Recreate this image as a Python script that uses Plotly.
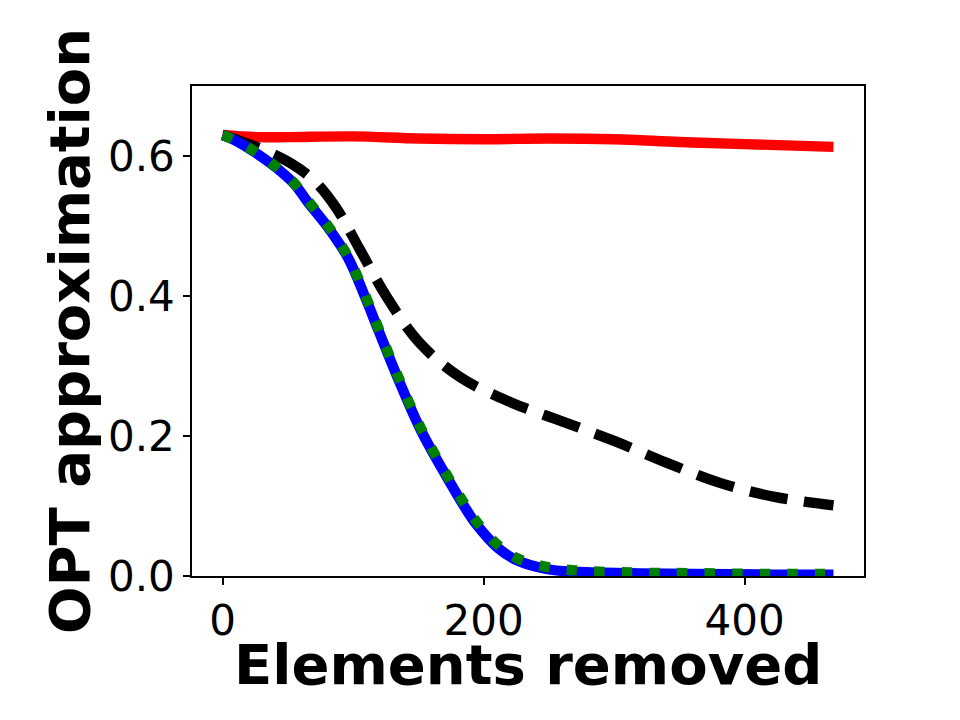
import plotly.graph_objects as go

# Data
red_x = [0, 25, 50, 100, 150, 200, 250, 300, 350, 400, 468]
red_y = [0.630, 0.627, 0.627, 0.628, 0.625, 0.624, 0.625, 0.624, 0.620, 0.617, 0.613]

black_x = [0, 14, 30, 52, 70, 87, 105, 126, 151, 182, 221, 260, 300, 340, 381, 423, 468]
black_y = [0.630, 0.621, 0.610, 0.590, 0.565, 0.526, 0.467, 0.398, 0.333, 0.284, 0.248,
           0.221, 0.193, 0.162, 0.133, 0.113, 0.101]

blue_x = [0, 10, 25, 40, 55, 65, 80, 96, 110, 119, 134, 152, 171, 185, 194, 211, 226,
          248, 270, 313, 360, 420, 468]
blue_y = [0.630, 0.622, 0.605, 0.585, 0.560, 0.535, 0.500, 0.455, 0.395, 0.353, 0.284,
          0.208, 0.144, 0.100, 0.075, 0.040, 0.022, 0.010, 0.006, 0.004, 0.003, 0.002, 0.002]

green_x = blue_x
green_y = [0.630, 0.622, 0.606, 0.586, 0.561, 0.537, 0.502, 0.457, 0.398, 0.356, 0.287,
           0.211, 0.147, 0.104, 0.079, 0.044, 0.025, 0.013, 0.008, 0.005, 0.004, 0.003, 0.003]

x_ticks = [0, 200, 400]
y_ticks = [0.0, 0.2, 0.4, 0.6]
y_tick_text = ["0.0", "0.2", "0.4", "0.6"]
x_title = "Elements removed"
y_title = "OPT approximation"

LW = 10.4

fig = go.Figure()
fig.add_trace(go.Scatter(x=red_x, y=red_y, mode="lines",
                         line=dict(color="#ff0000", width=LW, shape="spline")))
fig.add_trace(go.Scatter(x=black_x, y=black_y, mode="lines",
                         line=dict(color="#000000", width=LW, dash="38.5px,16.7px", shape="spline")))
fig.add_trace(go.Scatter(x=blue_x, y=blue_y, mode="lines",
                         line=dict(color="#0000ff", width=LW, shape="spline")))
fig.add_trace(go.Scatter(x=green_x, y=green_y, mode="lines",
                         line=dict(color="#008000", width=LW, dash="10.4px,17.2px", shape="spline")))

axis_common = dict(
    showline=True, linecolor="black", linewidth=1.7, mirror=True,
    ticks="outside", ticklen=7, tickwidth=1.7, tickcolor="black",
    showgrid=False, zeroline=False,
    tickfont=dict(family="DejaVu Sans", size=42, color="black"),
)

fig.update_layout(
    width=960, height=720,
    margin=dict(l=192, r=96, t=86, b=144, autoexpand=False),
    paper_bgcolor="white", plot_bgcolor="white",
    showlegend=False,
    xaxis=dict(range=[-23.4, 491.4], tickvals=x_ticks, ticktext=[str(v) for v in x_ticks],
               automargin=False, **axis_common),
    yaxis=dict(range=[0, 0.7], tickvals=y_ticks, ticktext=y_tick_text,
               title=dict(text="<b>" + y_title + "</b>", standoff=0,
                          font=dict(family="DejaVu Sans", size=56, color="black")),
               automargin=False, **axis_common),
    annotations=[dict(text="<b>" + x_title + "</b>", xref="paper", yref="paper",
                      x=0.5, y=0, xanchor="center", yanchor="top", yshift=-54,
                      showarrow=False,
                      font=dict(family="DejaVu Sans", size=56, color="black"))],
)

fig.write_html("out.html")
